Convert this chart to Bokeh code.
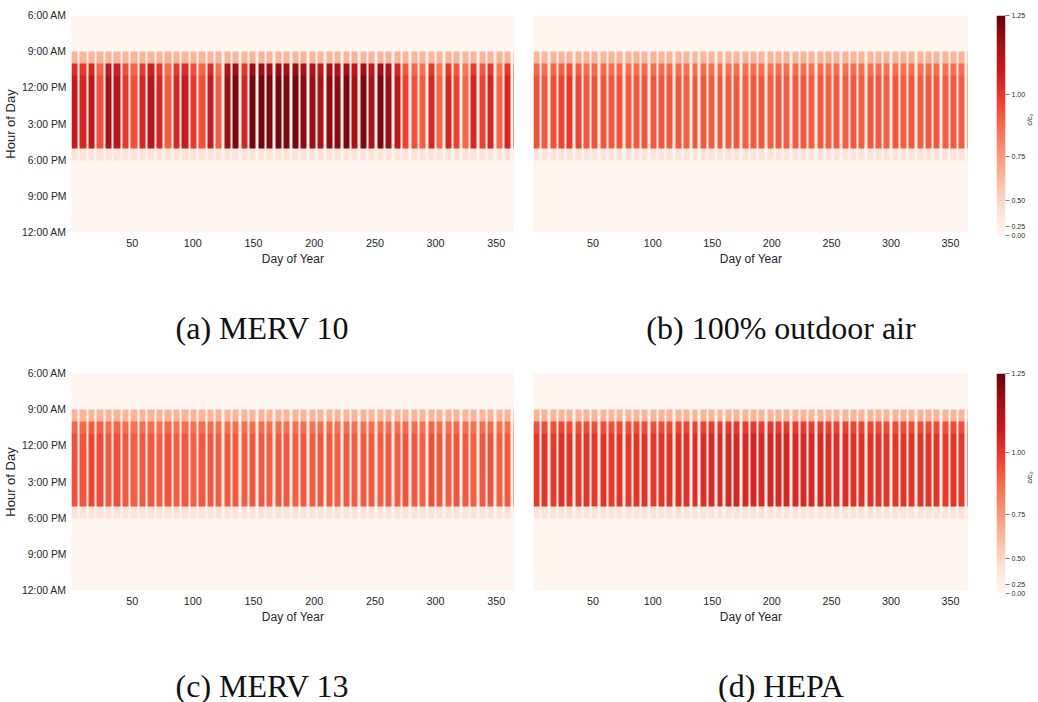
import math
import numpy as np
from bokeh.plotting import figure
from bokeh.models import Range1d, FixedTicker, LinearColorMapper, Div
from bokeh.layouts import column, row
from bokeh.embed import file_html
from bokeh.resources import INLINE
from bokeh.palettes import Reds9

# ---------------- data ----------------
days = list(range(1, 366))               # day of year, day 1 = Monday
hour_rows = list(range(6, 24))           # start hour of each heatmap row
week_pattern = [1, 1, 1, 1, 1, 0, 0]     # Mon..Sun: building occupied?

# weekday level of c/c0 during 10 AM - 5 PM, one value per week (53 weeks)
merv10_week = [
    1.08, 1.05, 1.10, 0.95, 1.15, 1.12, 1.00, 0.95, 1.05, 1.12,
    1.05, 0.92, 1.05, 1.08, 1.00, 0.95, 1.08, 0.92, 1.18, 1.22,
    1.05, 1.23, 1.23, 1.22, 1.23, 1.22, 1.23, 1.20, 1.18, 1.15,
    1.20, 1.20, 1.22, 1.15, 1.22, 1.15, 1.22, 1.18, 1.10, 0.98,
    0.95, 0.92, 1.05, 0.90, 1.05, 0.98, 0.90, 1.05, 0.98, 1.05,
    0.90, 1.05, 1.00]
oa100_week = [
    0.95, 0.93, 0.95, 0.97, 1.00, 0.97, 0.93, 0.94, 0.94, 0.93,
    0.94, 0.93, 0.93, 0.94, 0.93, 0.93, 0.93, 0.93, 0.92, 0.93,
    0.93, 0.92, 0.93, 0.92, 0.93, 0.92, 0.93, 0.93, 0.92, 0.93,
    0.92, 0.93, 0.93, 0.92, 0.93, 0.92, 0.93, 0.92, 0.93, 0.92,
    0.93, 0.93, 0.92, 0.93, 0.92, 0.93, 0.92, 0.93, 0.93, 0.92,
    0.93, 0.92, 0.93]
merv13_week = [
    0.95, 0.94, 0.97, 0.96, 0.93, 0.95, 0.93, 0.92, 0.93, 0.93,
    0.92, 0.94, 0.92, 0.93, 0.92, 0.93, 0.93, 0.92, 0.93, 0.93,
    0.92, 0.93, 0.93, 0.92, 0.93, 0.93, 0.92, 0.93, 0.92, 0.93,
    0.93, 0.92, 0.93, 0.92, 0.93, 0.93, 0.92, 0.93, 0.92, 0.94,
    0.93, 0.92, 0.95, 0.93, 0.92, 0.94, 0.93, 0.92, 0.93, 0.94,
    0.92, 0.93, 0.93]
hepa_week = [
    1.00, 1.01, 1.00, 1.02, 1.01, 1.00, 1.01, 1.00, 1.01, 1.00,
    1.01, 1.00, 1.01, 1.01, 1.00, 1.01, 1.01, 1.02, 1.02, 1.03,
    1.03, 1.04, 1.04, 1.04, 1.05, 1.04, 1.05, 1.04, 1.05, 1.04,
    1.05, 1.04, 1.04, 1.04, 1.04, 1.03, 1.03, 1.03, 1.02, 1.02,
    1.02, 1.01, 1.01, 1.01, 1.01, 1.01, 1.01, 1.01, 1.01, 1.00,
    1.01, 1.00, 1.01]

morning_level = 0.65     # 9-10 AM on occupied days
evening_level = 0.42     # 5-6 PM on occupied days
idle_level = 0.12        # unoccupied days during operating hours
first_hour_drop = 0.05   # 10-11 AM slightly lower

captions = ["(a) MERV 10", "(b) 100% outdoor air", "(c) MERV 13", "(d) HEPA"]
y_tick_hours = [6, 9, 12, 15, 18, 21, 24]
y_tick_labels = ["6:00 AM", "9:00 AM", "12:00 PM", "3:00 PM", "6:00 PM", "9:00 PM", "12:00 AM"]
x_ticks = [50, 100, 150, 200, 250, 300, 350]
cbar_ticks = [0.0, 0.25, 0.5, 0.75, 1.0, 1.25]
vmax = 1.25
gamma = 2.0

# ---------------- palette (matplotlib "Reds") ----------------
def hex2rgb(h):
    return np.array([int(h[i:i + 2], 16) for i in (1, 3, 5)], float)

base = [hex2rgb(c) for c in reversed(Reds9)]
palette = []
for k in range(256):
    f = k / 255 * 8
    i = min(int(f), 7)
    t = f - i
    c = base[i] * (1 - t) + base[i + 1] * t
    palette.append("#%02x%02x%02x" % tuple(int(round(v)) for v in c))
mapper = LinearColorMapper(palette=palette, low=0, high=1)


def build(week_levels):
    g = np.zeros((len(hour_rows), len(days)))
    for j, d in enumerate(days):
        wk = (d - 1) // 7
        on = week_pattern[(d - 1) % 7]
        for i, h in enumerate(hour_rows):
            if h == 9:
                v = morning_level if on else idle_level * 0.8
            elif 10 <= h < 17:
                if on:
                    v = week_levels[wk] - (first_hour_drop if h == 10 else 0.0)
                else:
                    v = idle_level
            elif h == 17:
                v = evening_level if on else idle_level * 0.6
            else:
                v = 0.0
            g[i, j] = v
    # normalised colour position (power norm), bottom row = latest hour
    return ((np.clip(g, 0, vmax) / vmax) ** gamma)[::-1]


FONT = "Liberation Sans"
TXT = "#262626"


def panel(week_levels, left, frame_w, show_y):
    p = figure(x_range=Range1d(0, 365), y_range=Range1d(0, 18),
               frame_width=frame_w, frame_height=217,
               min_border_left=left, min_border_right=0,
               min_border_top=15, min_border_bottom=58,
               output_backend="svg", toolbar_location=None)
    p.image(image=[build(week_levels)], x=0, y=0, dw=365, dh=18, color_mapper=mapper)
    p.grid.visible = False
    p.outline_line_color = None
    ax = p.xaxis[0]
    ax.ticker = FixedTicker(ticks=x_ticks)
    ax.axis_label = "Day of Year"
    ax.major_label_standoff = 6
    ax.axis_label_standoff = 2
    ay = p.yaxis[0]
    ay.ticker = FixedTicker(ticks=[24 - h for h in y_tick_hours])
    ay.major_label_overrides = {24 - h: lab for h, lab in zip(y_tick_hours, y_tick_labels)}
    ay.axis_label = "Hour of Day"
    ay.major_label_standoff = 5
    ay.axis_label_standoff = 1
    for a in (ax, ay):
        a.axis_line_color = None
        a.major_tick_line_color = None
        a.minor_tick_line_color = None
        a.major_tick_out = 0
        a.major_tick_in = 0
        a.minor_tick_out = 0
        a.minor_tick_in = 0
        a.major_label_text_font = FONT
        a.major_label_text_font_size = "10.4px"
        a.major_label_text_color = TXT
        a.axis_label_text_font = FONT
        a.axis_label_text_font_size = "12px"
        a.axis_label_text_color = TXT
        a.axis_label_text_font_style = "normal"
    ax.major_label_text_font_size = "10.8px"
    ay.axis_label_text_font_size = "13px"
    if not show_y:
        ay.visible = False
    return p


def colorbar():
    p = figure(x_range=Range1d(0, 1), y_range=Range1d(0, 1),
               frame_width=9, frame_height=220,
               min_border_left=28, min_border_right=33,
               min_border_top=12, min_border_bottom=58,
               x_axis_location=None, y_axis_location="right",
               output_backend="svg", toolbar_location=None)
    grad = np.linspace(0, 1, 256).reshape(256, 1)
    p.image(image=[grad], x=0, y=0, dw=1, dh=1, color_mapper=mapper)
    p.grid.visible = False
    p.outline_line_color = None
    a = p.yaxis[0]
    pos = [(v / vmax) ** gamma for v in cbar_ticks]
    a.ticker = FixedTicker(ticks=pos)
    a.major_label_overrides = {q: "%.2f" % v for q, v in zip(pos, cbar_ticks)}
    a.axis_line_color = None
    a.major_tick_out = 4
    a.major_tick_in = 0
    a.major_tick_line_color = TXT
    a.major_tick_line_width = 0.6
    a.minor_tick_line_color = None
    a.minor_tick_out = 0
    a.minor_tick_in = 0
    a.major_label_standoff = 2
    a.major_label_text_font = FONT
    a.major_label_text_font_size = "7px"
    a.major_label_text_color = TXT
    a.axis_label = "c/c\u2080"
    a.axis_label_orientation = math.pi / 2
    a.axis_label_text_font = FONT
    a.axis_label_text_font_size = "7px"
    a.axis_label_text_font_style = "italic"
    a.axis_label_text_color = TXT
    a.axis_label_standoff = 1
    return p


def caption(text, width):
    return Div(text='<div style="font-family: \'Liberation Serif\', serif; font-size: 32px; '
                    'line-height: 32px; text-align: center; width: %dpx; padding-top: 22px; '
                    'color: #111; white-space: nowrap;">%s</div>' % (width, text),
               width=width, height=68, margin=0)


pa = panel(merv10_week, 71, 443, True)
pb = panel(oa100_week, 19, 435, False)
pc = panel(merv13_week, 71, 443, True)
pd = panel(hepa_week, 19, 435, False)

layout = column(
    row(pa, pb, colorbar(), spacing=0),
    row(caption(captions[0], 524), caption(captions[1], 514), spacing=0),
    row(pc, pd, colorbar(), spacing=0),
    row(caption(captions[2], 524), caption(captions[3], 514), spacing=0),
    spacing=0,
)

open("out.html", "w").write(file_html(layout, INLINE))
